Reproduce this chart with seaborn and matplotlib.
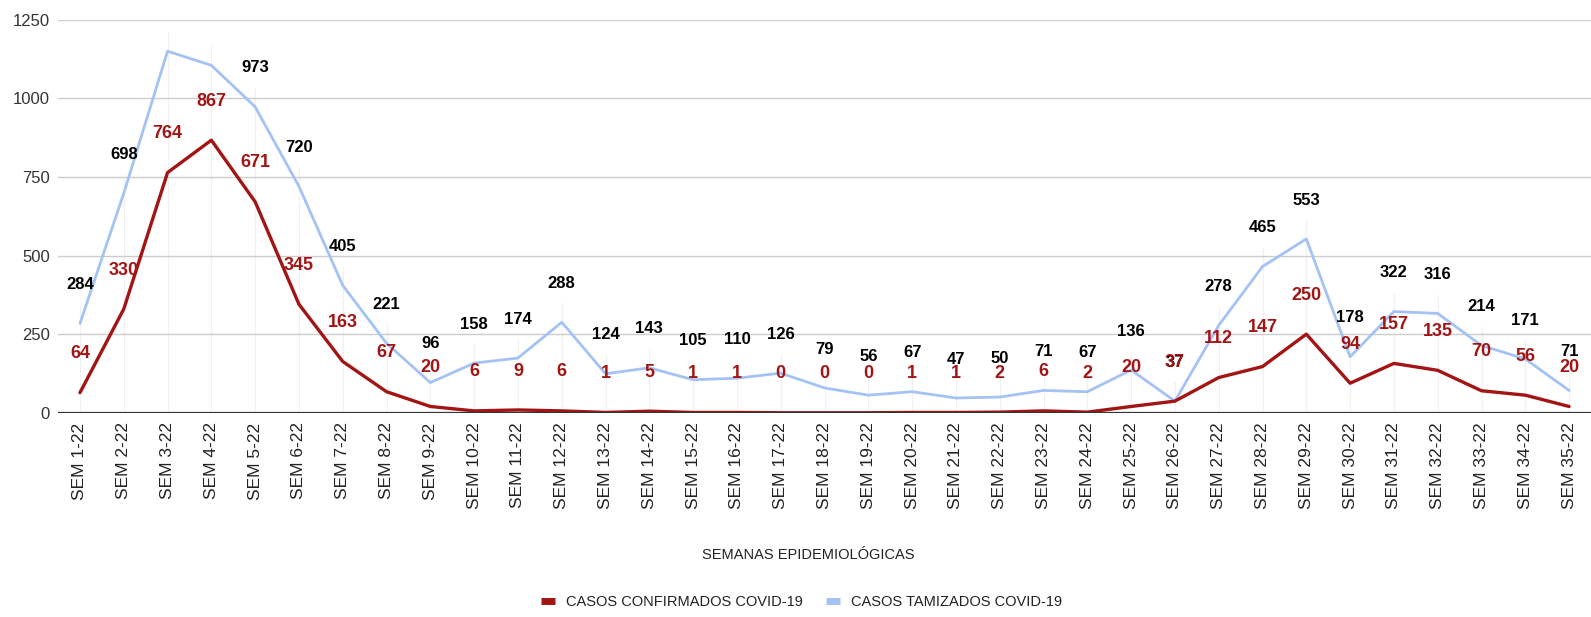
import pandas as pd
import seaborn as sns
import matplotlib.pyplot as plt
from matplotlib.lines import Line2D

# Data
semanas = [f'SEM {i}-22' for i in range(1, 36)]
confirmados = [64, 330, 764, 867, 671, 345, 163, 67, 20, 6, 9, 6, 1, 5, 1, 1, 0, 0,
               0, 1, 1, 2, 6, 2, 20, 37, 112, 147, 250, 94, 157, 135, 70, 56, 20]
tamizados = [284, 698, 1150, 1105, 973, 720, 405, 221, 96, 158, 174, 288, 124, 143, 105,
             110, 126, 79, 56, 67, 47, 50, 71, 67, 136, 37, 278, 465, 553, 178, 322, 316,
             214, 171, 71]
# weeks whose blue label is not drawn in the original (clipped at the top)
sin_etiqueta = ['SEM 3-22', 'SEM 4-22']

serie_conf = 'CASOS CONFIRMADOS COVID-19'
serie_tam = 'CASOS TAMIZADOS COVID-19'
col_conf = '#a31515'
col_tam = '#a4c2f4'

df = pd.DataFrame({'semana': semanas * 2,
                   'casos': confirmados + tamizados,
                   'serie': [serie_conf] * len(semanas) + [serie_tam] * len(semanas)})

sns.set_theme(style='white')
plt.rcParams['font.family'] = ['Liberation Sans', 'DejaVu Sans']

fig = plt.figure(figsize=(15.91, 6.17), dpi=100)
ax = fig.add_axes([0.0365, 0.331, 0.9635, 0.637])

# faint leader lines under the labels
for i, s in enumerate(semanas):
    ax.plot([i, i], [0, max(confirmados[i], tamizados[i]) + 60], color='#f0f0f0', lw=0.8, zorder=0)

sns.lineplot(data=df, x='semana', y='casos', hue='serie', hue_order=[serie_tam, serie_conf],
             palette={serie_conf: col_conf, serie_tam: col_tam}, ax=ax, legend=False, sort=False)
ax.get_lines()[-2].set_linewidth(2.0)
ax.get_lines()[-1].set_linewidth(2.4)

for i, s in enumerate(semanas):
    if s not in sin_etiqueta:
        ax.annotate(str(tamizados[i]), (i, tamizados[i]), xytext=(0, 28), textcoords='offset points',
                    ha='center', va='center', fontsize=12, fontweight='bold', color='black')
    ax.annotate(str(confirmados[i]), (i, confirmados[i]), xytext=(0, 28), textcoords='offset points',
                ha='center', va='center', fontsize=13, fontweight='bold', color=col_conf)

ax.set_xlim(-0.5, 34.5)
ax.set_ylim(0, 1250)
ax.set_yticks([0, 250, 500, 750, 1000, 1250])
ax.yaxis.grid(True, color='#cccccc', lw=1)
ax.set_axisbelow(True)
ax.axhline(0, color='#333333', lw=1.6, zorder=3)
for side in ['left', 'right', 'top', 'bottom']:
    ax.spines[side].set_visible(False)
ax.tick_params(axis='x', labelrotation=90, labelsize=12.5, pad=7, length=0, labelcolor='#222222')
ax.tick_params(axis='y', labelsize=12, pad=6, length=0, labelcolor='#333333')
ax.set_xlabel('')
ax.set_ylabel('')

fig.text(0.508, 1 - 555 / 617, 'SEMANAS EPIDEMIOLÓGICAS', ha='center', va='center',
         fontsize=10.5, color='#222222')

handles = [Line2D([], [], color=col_conf, lw=5, solid_capstyle='butt'),
           Line2D([], [], color=col_tam, lw=5, solid_capstyle='butt')]
fig.legend(handles, [serie_conf, serie_tam], loc='center', bbox_to_anchor=(0.504, 1 - 602 / 617),
           ncol=2, frameon=False, handlelength=0.9, columnspacing=1.6, handletextpad=0.8,
           prop={'size': 10.5}, labelcolor='#222222')

plt.savefig('out.png', dpi=100)
